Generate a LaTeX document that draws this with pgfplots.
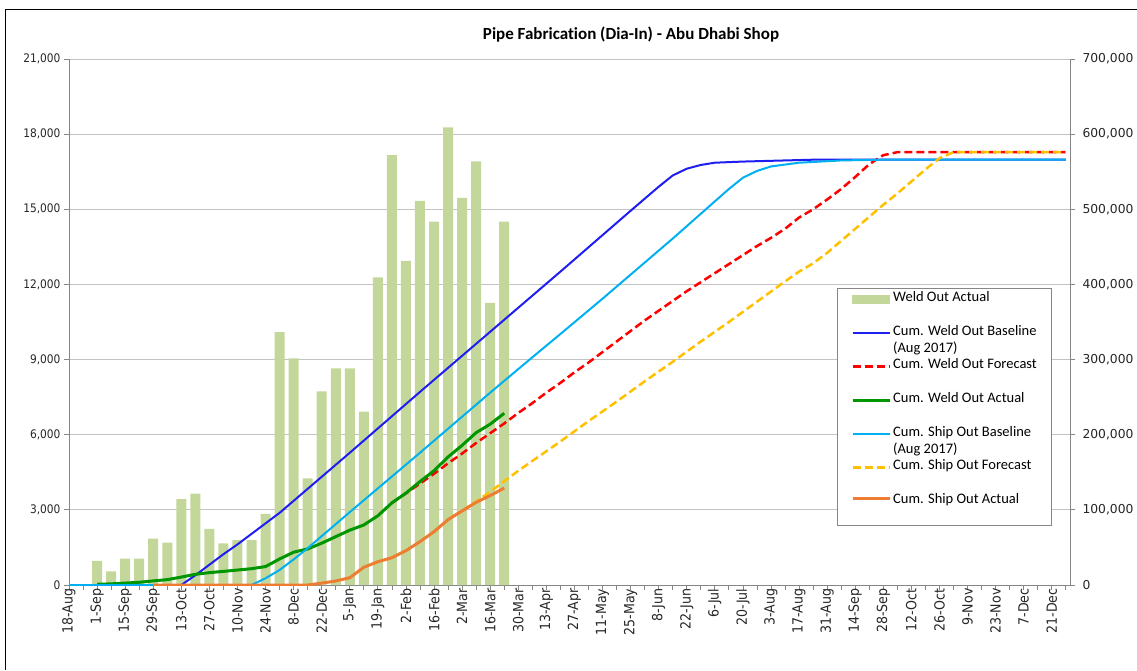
\documentclass[border=0pt]{standalone}
\usepackage{fontspec}
\usepackage{pgfplots}
\pgfplotsset{compat=1.18}
\setmainfont{Carlito}[Ligatures=NoCommon]
\newfontfamily\tickfont{DejaVu Sans Condensed}
\newfontfamily\rtickfont{DejaVu Sans}
\definecolor{barc}{RGB}{196,215,155}
\definecolor{cblue}{RGB}{30,30,240}
\definecolor{ccyan}{RGB}{0,176,240}
\definecolor{cgreen}{RGB}{0,150,0}
\definecolor{corange}{RGB}{237,125,49}
\definecolor{cred}{RGB}{255,0,0}
\definecolor{cyellow}{RGB}{255,192,0}
\definecolor{gridc}{RGB}{195,195,195}
\definecolor{axc}{RGB}{134,134,134}
\pgfplotsset{common/.style={scale only axis, width=1001pt, height=526pt,
  at={(69pt,85pt)}, anchor=south west, xmin=0, xmax=71.3,
  scaled y ticks=false, tick align=outside, major tick length=5pt, minor tick length=5pt,
  tick style={axc, line width=0.8pt}, axis line style={axc, line width=0.8pt},
  /pgf/number format/assume math mode=true,
  /pgf/number format/fixed, /pgf/number format/precision=0, /pgf/number format/1000 sep={,}},
  shiftleg/.style={legend image code/.code={\draw[##1] (0pt,9.5pt) -- (37pt,9.5pt);}}}
\begin{document}
\begin{tikzpicture}
\path[use as bounding box] (0pt,0pt) rectangle (1137pt,670pt);
\draw[black, line width=1pt] (5.5pt,0pt) -- (5.5pt,660.5pt) -- (1137pt,660.5pt);
\node[font=\bfseries\fontsize{17}{19}\selectfont] at (631pt,635pt) {Pipe Fabrication (Dia-In) - Abu Dhabi Shop};

\begin{axis}[common, ymin=0, ymax=21000,
  ytick={0,3000,6000,9000,12000,15000,18000,21000},
  yticklabel style={font=\tickfont\fontsize{11.8}{13}\selectfont, black!85},
  axis y line*=left, axis x line*=bottom,
  ymajorgrids, grid style={gridc, line width=0.8pt},
  xtick={0,2,...,70}, minor xtick={1,3,...,71},
  xticklabels={18-Aug,1-Sep,15-Sep,29-Sep,13-Oct,27-Oct,10-Nov,24-Nov,8-Dec,22-Dec,5-Jan,19-Jan,2-Feb,16-Feb,2-Mar,16-Mar,30-Mar,13-Apr,27-Apr,11-May,25-May,8-Jun,22-Jun,6-Jul,20-Jul,3-Aug,17-Aug,31-Aug,14-Sep,28-Sep,12-Oct,26-Oct,9-Nov,23-Nov,7-Dec,21-Dec},
  xticklabel shift=-5pt,
  xticklabel style={rotate=90, anchor=east, font=\tickfont\fontsize{14}{16}\selectfont, black!85}]
\addplot[ybar, bar width=10pt, fill=barc, draw=none] coordinates {
(2,960)(3,540)(4,1050)(5,1050)(6,1850)(7,1690)(8,3430)(9,3650)(10,2240)(11,1660)
(12,1790)(13,1790)(14,2840)(15,10100)(16,9050)(17,4260)(18,7730)(19,8650)(20,8650)(21,6920)
(22,12280)(23,17160)(24,12940)(25,15340)(26,14510)(27,18270)(28,15460)(29,16910)(30,11260)(31,14510)};
\end{axis}

\begin{axis}[common, ymin=0, ymax=700000,
  ytick={0,100000,200000,300000,400000,500000,600000,700000},
  yticklabel style={font=\rtickfont\fontsize{12.3}{14}\selectfont, black!85, xshift=4pt},
  axis y line*=right, axis x line=none, xtick=\empty,
  legend image code/.code={\draw[#1] (0pt,0pt) -- (37pt,0pt);},
  legend cell align=left,
  legend style={at={(0.767,0.5646)}, anchor=north west, draw=axc, line width=0.8pt, fill=white,
    inner xsep=14pt, inner ysep=3pt, row sep=18.7pt,
    font=\fontsize{14.5}{16}\selectfont, nodes={inner sep=1pt, text height=9pt, text depth=4pt},
    /tikz/row 7 column 2/.style={nodes={text depth=18pt}},
    /tikz/every odd column/.style={column sep=1pt}}]
\addlegendimage{legend image code/.code={\fill[barc] (0pt,-4pt) rectangle (37pt,4pt);}}
\addlegendentry{Weld Out Actual}
\addplot[cblue, line width=2pt, line join=round] coordinates {
(0,0)(8,0)(9,13000)(10,27000)(11,41000)(12,54000)(13,68000)(14,82000)(15,96000)(20,176000)(25,257000)
(30,337000)(35,417000)(40,498000)(42,530000)(43,545000)(44,554000)(45,559000)(46,562000)
(48,563500)(50,564500)(53,566000)(71,566000)};
\addlegendentry{\smash{\rlap{\raisebox{-17pt}{(Aug 2017)}}}Cum. Weld Out Baseline}
\addplot[cred, line width=2.5pt, dash pattern=on 8pt off 4pt] coordinates {
(23,109340)(24,122000)(25,135000)(26,148000)(27,162000)(28,175000)(29,189000)(30,202000)(31,215000)
(32,229000)(33,242000)(34,256000)(35,269000)(36,283000)(37,296000)(38,310000)(39,324000)(40,338000)
(41,352000)(42,365000)(43,378000)(44,391000)(45,403000)(46,415000)(47,427000)(48,439000)(49,451000)
(50,462000)(51,474000)(52,489000)(53,500000)(54,513000)(55,527000)(56,543000)(57,560000)(58,572000)
(59,576000)(71,576000)};
\addlegendentry{Cum. Weld Out Forecast}
\addplot[cgreen, line width=3pt, line join=round] coordinates {
(2,960)(3,1500)(4,2550)(5,3600)(6,5450)(7,7140)(8,10570)(9,14220)(10,16460)(11,18120)(12,19910)
(13,21700)(14,24540)(15,34640)(16,43690)(17,47950)(18,55680)(19,64330)(20,72980)(21,79900)
(22,92180)(23,109340)(24,122280)(25,137620)(26,152130)(27,170400)(28,185860)(29,202770)
(30,214030)(31,228540)};
\addlegendentry{Cum. Weld Out Actual}
\addplot[ccyan, line width=2pt, line join=round] coordinates {
(0,0)(13,0)(14,9000)(15,20000)(16,34000)(17,49000)(18,65000)(20,97000)(25,176000)(30,256000)
(33,303000)(35,334000)(38,381000)(40,413000)(43,461000)(45,494000)(47,527000)(48,542000)
(49,551000)(50,557000)(52,562000)(55,565000)(58,566000)(71,566000)};
\addlegendentry{\smash{\rlap{\raisebox{-17pt}{(Aug 2017)}}}Cum. Ship Out Baseline}
\addplot[cyellow, line width=2.5pt, dash pattern=on 8pt off 4pt] coordinates {
(26,71000)(27,87000)(28,99000)(29,111000)(30,124000)(31,138000)(32,152000)(33,165000)(35,191000)
(37,218000)(39,244000)(41,271000)(43,297000)(45,324000)(47,350000)(49,377000)(51,404000)
(52,417000)(53,428000)(54,442000)(55,458000)(56,474000)(57,490000)(58,506000)(59,521000)
(60,537000)(61,553000)(62,568000)(63,576000)(71,576000)};
\addlegendentry{Cum. Ship Out Forecast}
\addplot[corange, line width=3pt, line join=round, shiftleg] coordinates {
(6,0)(17,0)(18,2500)(19,5300)(20,9700)(21,23600)(22,31000)(23,36300)(24,45700)(25,57700)
(26,71000)(27,87000)(28,98600)(29,110000)(30,119000)(31,129000)};
\addlegendentry{Cum. Ship Out Actual}
\end{axis}
\end{tikzpicture}
\end{document}
